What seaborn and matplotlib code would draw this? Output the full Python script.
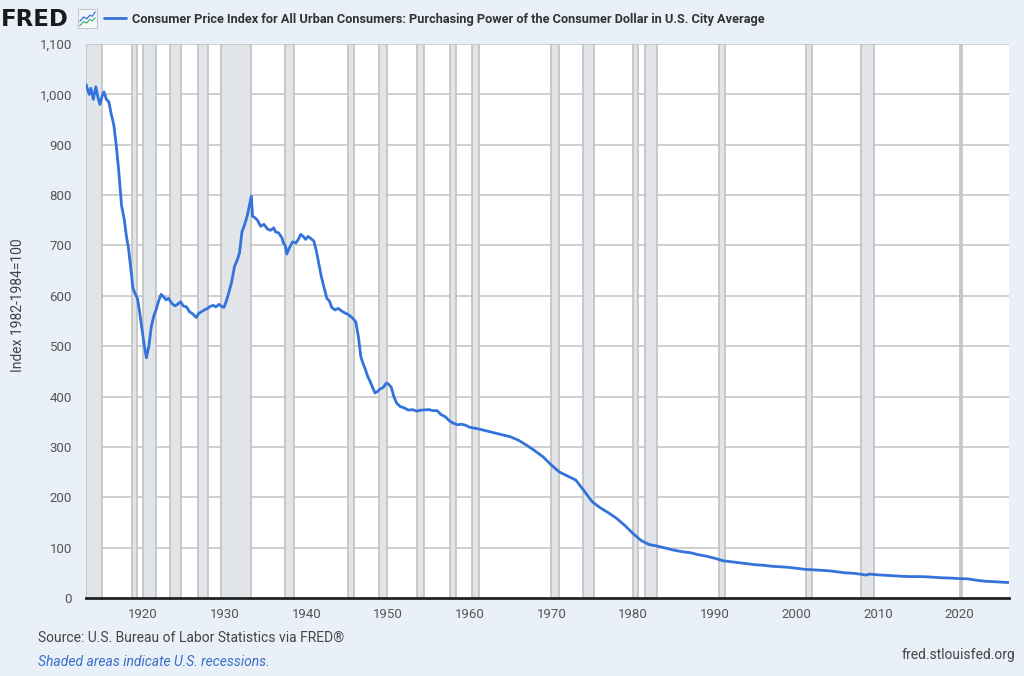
import matplotlib.pyplot as plt
import pandas as pd
import seaborn as sns
from matplotlib.ticker import FuncFormatter

# purchasing power of the consumer dollar, index 1982-1984=100
dates = [
    1913.0, 1913.2, 1913.4, 1913.6, 1913.9, 1914.2, 1914.45, 1914.7, 1915.0, 1915.2,
    1915.5, 1915.8, 1916.1, 1916.4, 1916.7, 1917.0, 1917.35, 1917.7, 1917.95, 1918.2,
    1918.45, 1918.75, 1919.0, 1919.3, 1919.55, 1919.8, 1920.1, 1920.4, 1920.7, 1921.0,
    1921.3, 1921.6, 1921.9, 1922.2, 1922.5, 1922.8, 1923.1, 1923.5, 1923.9, 1924.2,
    1924.6, 1924.9, 1925.3, 1925.7, 1926.0, 1926.5, 1926.8, 1927.1, 1927.5, 1927.9,
    1928.2, 1928.6, 1928.9, 1929.3, 1929.6, 1929.9, 1930.2, 1930.5, 1930.8, 1931.2,
    1931.5, 1931.8, 1932.1, 1932.4, 1932.75, 1933.25, 1933.4, 1933.7, 1934.0, 1934.4,
    1934.8, 1935.2, 1935.6, 1936.0, 1936.2, 1936.6, 1937.0, 1937.15, 1937.4, 1937.6,
    1937.9, 1938.3, 1938.7, 1939.0, 1939.3, 1939.6, 1939.9, 1940.2, 1940.5, 1940.9,
    1941.2, 1941.5, 1941.8, 1942.1, 1942.5, 1942.8, 1943.1, 1943.5, 1943.9, 1944.3,
    1944.7, 1945.1, 1945.5, 1945.8, 1946.05, 1946.4, 1946.65, 1946.9, 1947.2, 1947.5,
    1947.8, 1948.1, 1948.4, 1948.7, 1949.0, 1949.4, 1949.8, 1950.1, 1950.4, 1950.7,
    1951.05, 1951.5, 1951.9, 1952.5, 1953.0, 1953.5, 1954.0, 1955.0, 1955.5, 1956.0,
    1956.5, 1957.0, 1957.5, 1958.0, 1958.5, 1959.0, 1959.5, 1960.0, 1961.0, 1962.0,
    1963.0, 1964.0, 1965.0, 1966.0, 1967.0, 1968.0, 1969.0, 1970.0, 1971.0, 1972.0,
    1973.0, 1974.0, 1975.0, 1976.0, 1977.0, 1978.0, 1979.0, 1980.0, 1981.0, 1982.0,
    1983.0, 1984.0, 1985.0, 1986.0, 1987.0, 1988.0, 1989.0, 1990.0, 1991.0, 1992.0,
    1993.0, 1994.0, 1995.0, 1996.0, 1997.0, 1998.0, 1999.0, 2000.0, 2001.0, 2002.0,
    2003.0, 2004.0, 2005.0, 2006.0, 2007.0, 2008.0, 2008.5, 2009.0, 2010.0, 2011.0,
    2012.0, 2013.0, 2014.0, 2015.0, 2016.0, 2017.0, 2018.0, 2019.0, 2020.0, 2021.0,
    2022.0, 2023.0, 2024.0, 2025.0, 2026.0,
]
purchasing_power = [
    1020, 1010, 1000, 1012, 990, 1015, 995, 980, 998, 1005,
    990, 985, 960, 940, 900, 850, 780, 750, 718, 695,
    660, 615, 605, 595, 570, 540, 505, 477, 500, 539,
    560, 573, 590, 603, 598, 592, 595, 585, 580, 583,
    588, 580, 578, 568, 565, 557, 565, 568, 572, 575,
    579, 581, 578, 583, 579, 577, 590, 607, 625, 659,
    670, 685, 727, 740, 759, 798, 758, 755, 750, 738,
    742, 733, 730, 735, 727, 725, 715, 706, 700, 683,
    695, 707, 705, 712, 722, 718, 712, 718, 714, 709,
    690, 665, 640, 620, 595, 590, 577, 572, 575, 570,
    566, 563, 558, 553, 548, 515, 480, 467, 455, 440,
    430, 418, 407, 410, 415, 418, 427, 424, 418, 400,
    387, 380, 378, 373, 374, 371, 373, 374, 372, 372,
    364, 360, 352, 347, 344, 345, 343, 339, 336, 332,
    328, 324, 320, 313, 303, 292, 280, 264, 250, 242,
    234, 213, 191, 179, 169, 158, 144, 128, 114, 106,
    103, 99, 95, 92, 90, 86, 83, 79, 74, 72,
    70, 68, 66, 65, 63, 62, 61, 59, 57, 56,
    55, 54, 52, 50, 49, 47, 45.5, 47.5, 46, 45,
    44, 43, 42.5, 42.6, 42, 41, 40, 39.5, 38.5, 38,
    35.5, 33.5, 32.5, 31.6, 30.8,
]

# NBER recessions (peak month, trough month)
recession_peaks = ["1913-01", "1918-08", "1920-01", "1923-05", "1926-10", "1929-08",
                   "1937-05", "1945-02", "1948-11", "1953-07", "1957-08", "1960-04",
                   "1969-12", "1973-11", "1980-01", "1981-07", "1990-07", "2001-03",
                   "2007-12", "2020-02"]
recession_troughs = ["1914-12", "1919-03", "1921-07", "1924-07", "1927-11", "1933-03",
                     "1938-06", "1945-10", "1949-10", "1954-05", "1958-04", "1961-02",
                     "1970-11", "1975-03", "1980-07", "1982-11", "1991-03", "2001-11",
                     "2009-06", "2020-04"]

year_ticks = [1920, 1930, 1940, 1950, 1960, 1970, 1980, 1990, 2000, 2010, 2020]
value_ticks = [0, 100, 200, 300, 400, 500, 600, 700, 800, 900, 1000, 1100]

series_name = ("Consumer Price Index for All Urban Consumers: Purchasing Power of the "
               "Consumer Dollar in U.S. City Average")

BG = "#EAF0F8"
LINE = "#3373DB"
TXT = "#444444"


def month_to_year(s, end=False):
    y, m = s.split("-")
    return int(y) + (int(m) - 1 + (1 if end else 0)) / 12.0


df = pd.DataFrame({"date": dates, "value": purchasing_power})

sns.set_style("white")
plt.rcParams["font.family"] = ["Roboto", "DejaVu Sans"]

fig = plt.figure(figsize=(10.24, 6.76), dpi=100, facecolor=BG)
W, H = 1024.0, 676.0
ax = fig.add_axes([86 / W, 1 - 598 / H, (1009 - 86) / W, (598 - 44) / H])
ax.set_facecolor("white")

for p, t in zip(recession_peaks, recession_troughs):
    ax.axvspan(month_to_year(p), month_to_year(t, end=True),
               facecolor="#E1E5EA", edgecolor="#C2C2C2", lw=1.2, zorder=1)

for v in value_ticks[1:]:
    ax.axhline(v, color="#CFCFCF", lw=1.4, zorder=0.5)

sns.lineplot(data=df, x="date", y="value", ax=ax, color=LINE, lw=2.0,
             label=series_name, zorder=3)

ax.set_xlim(1913.0, 2026.05)
ax.set_ylim(0, 1100)
ax.set_xticks(year_ticks)
ax.set_yticks(value_ticks)
ax.yaxis.set_major_formatter(FuncFormatter(lambda v, _: f"{int(v):,}"))
ax.tick_params(axis="x", length=4, width=1, color="#CCCCCC", pad=3,
               labelsize=9.5, labelcolor="#555555")
ax.tick_params(axis="y", length=0, pad=10, labelsize=9.5, labelcolor="#555555")
ax.set_xlabel("")
ax.set_ylabel("")
for side in ["top", "right", "left"]:
    ax.spines[side].set_visible(False)
ax.spines["bottom"].set_color("#222222")
ax.spines["bottom"].set_linewidth(2)
ax.spines["bottom"].set_zorder(4)

handles, labels = ax.get_legend_handles_labels()
ax.get_legend().remove()
fig.legend(handles, labels, loc="center left", bbox_to_anchor=(99 / W, 1 - 19 / H),
           frameon=False, handlelength=1.7, handletextpad=0.5, borderaxespad=0,
           prop={"size": 9.2, "weight": "bold"}, labelcolor="#333333")

fig.text(18 / W, 1 - 305 / H, "Index 1982-1984=100", rotation=90, ha="center",
         va="center", fontsize=10, color=TXT)

# FRED header with its little chart icon
fig.text(1 / W, 1 - 19 / H, "FRED", fontsize=16.5, fontweight="bold", color="#1A1A1A",
         ha="left", va="center", family="DejaVu Sans")
icon = fig.add_axes([78 / W, 1 - 28 / H, 19 / W, 19 / H])
icon.set_facecolor("#F4F6F9")
for s in icon.spines.values():
    s.set_color("#C8C8C8")
    s.set_linewidth(0.8)
icon.set_xticks([])
icon.set_yticks([])
icon.plot([0.5, 1.5, 2.3, 3.1, 3.8, 4.5], [1.6, 2.6, 2.2, 3.0, 2.8, 3.8], color=LINE, lw=0.9)
icon.plot([0.5, 1.5, 2.3, 3.1, 3.8, 4.5], [0.6, 1.5, 1.2, 2.0, 1.7, 2.4], color="#4BAF7B", lw=0.9)
icon.set_xlim(0, 5)
icon.set_ylim(0, 4.5)

fig.text(38 / W, 1 - 638 / H, "Source: U.S. Bureau of Labor Statistics via FRED\u00ae",
         fontsize=10, color=TXT, ha="left", va="center")
fig.text(38 / W, 1 - 662 / H, "Shaded areas indicate U.S. recessions.", fontsize=10,
         color="#3A6FC8", style="italic", ha="left", va="center")
fig.text(1015 / W, 1 - 655 / H, "fred.stlouisfed.org", fontsize=10, color=TXT,
         ha="right", va="center")

fig.savefig("out.png", dpi=100, facecolor=BG)
